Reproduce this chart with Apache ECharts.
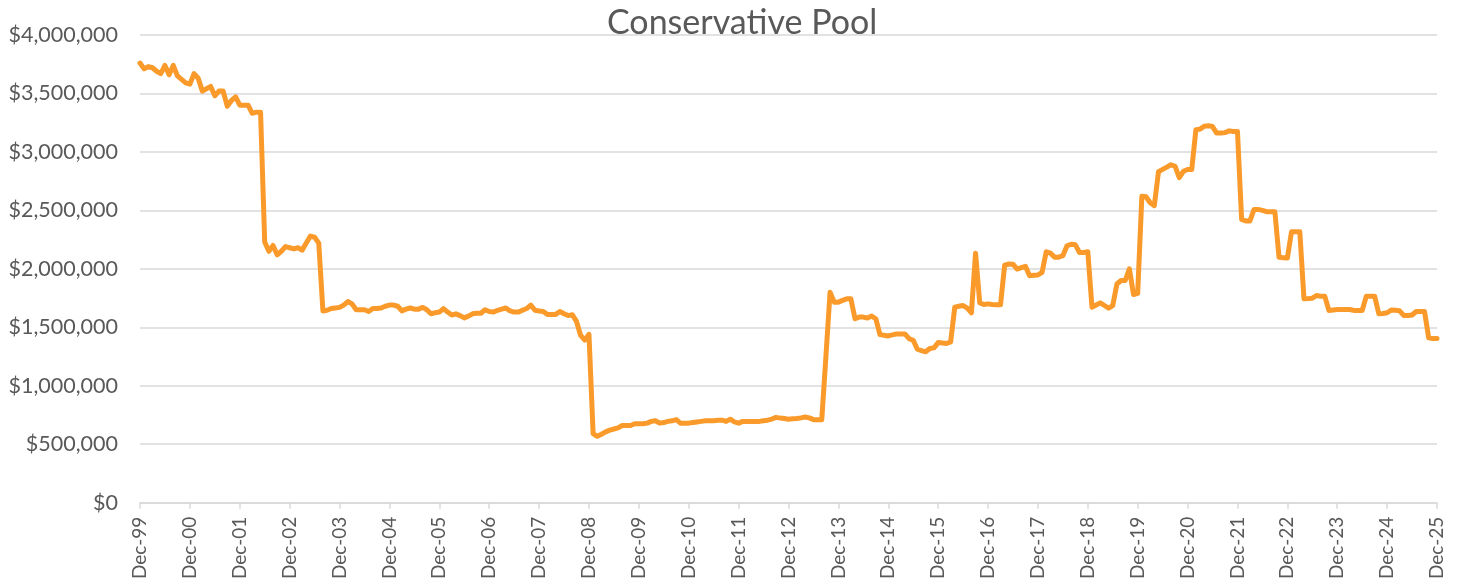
<!DOCTYPE html>
<html>
<head>
<meta charset="utf-8">
<script src="https://cdn.jsdelivr.net/npm/echarts@6/dist/echarts.min.js"></script>
<style>
html,body{margin:0;padding:0;background:#fff;}
#chart{width:1463px;height:582px;}
</style>
</head>
<body>
<div id="chart"></div>
<script>
// Monthly pool value in $ millions, Dec-1999 .. Dec-2025
var poolValues = [
  3.76, 3.71, 3.73, 3.72, 3.69, 3.67, 3.74, 3.66, 3.74, 3.65, 3.62, 3.59,
  3.58, 3.67, 3.63, 3.52, 3.54, 3.56, 3.48, 3.52, 3.52, 3.39, 3.44, 3.47,
  3.40, 3.40, 3.40, 3.33, 3.34, 3.34, 2.23, 2.15, 2.20, 2.12, 2.15, 2.19,
  2.18, 2.17, 2.18, 2.16, 2.22, 2.28, 2.27, 2.22, 1.64, 1.645, 1.66, 1.665,
  1.67, 1.69, 1.72, 1.70, 1.65, 1.65, 1.65, 1.635, 1.66, 1.66, 1.665, 1.68,
  1.69, 1.69, 1.68, 1.64, 1.655, 1.665, 1.655, 1.655, 1.67, 1.65, 1.615, 1.625,
  1.63, 1.66, 1.63, 1.605, 1.615, 1.60, 1.58, 1.595, 1.615, 1.62, 1.62, 1.65,
  1.635, 1.63, 1.645, 1.655, 1.665, 1.64, 1.63, 1.63, 1.645, 1.66, 1.69, 1.645,
  1.64, 1.635, 1.61, 1.61, 1.61, 1.635, 1.616, 1.60, 1.607, 1.55, 1.43, 1.39,
  1.44, 0.59, 0.567, 0.585, 0.605, 0.62, 0.63, 0.64, 0.66, 0.66, 0.66, 0.675,
  0.675, 0.675, 0.68, 0.695, 0.70, 0.68, 0.685, 0.695, 0.70, 0.71, 0.68, 0.678,
  0.68, 0.685, 0.69, 0.695, 0.70, 0.70, 0.70, 0.705, 0.705, 0.695, 0.714, 0.69,
  0.68, 0.695, 0.695, 0.695, 0.695, 0.695, 0.70, 0.705, 0.715, 0.729, 0.723, 0.72,
  0.714, 0.717, 0.72, 0.725, 0.732, 0.725, 0.71, 0.709, 0.709, 1.25, 1.80, 1.715,
  1.715, 1.73, 1.743, 1.743, 1.573, 1.587, 1.587, 1.579, 1.596, 1.573, 1.437, 1.431,
  1.426, 1.435, 1.443, 1.443, 1.443, 1.403, 1.389, 1.312, 1.30, 1.29, 1.318, 1.324,
  1.369, 1.365, 1.361, 1.375, 1.672, 1.68, 1.686, 1.664, 1.624, 2.134, 1.709, 1.695,
  1.70, 1.695, 1.692, 1.692, 2.032, 2.041, 2.04, 1.998, 2.01, 2.021, 1.941, 1.945,
  1.947, 1.97, 2.146, 2.134, 2.10, 2.10, 2.112, 2.197, 2.21, 2.205, 2.14, 2.14,
  2.146, 1.672, 1.69, 1.709, 1.686, 1.664, 1.686, 1.87, 1.90, 1.90, 2.00, 1.78,
  1.79, 2.62, 2.616, 2.565, 2.54, 2.83, 2.85, 2.87, 2.89, 2.877, 2.78, 2.834,
  2.85, 2.849, 3.19, 3.195, 3.22, 3.223, 3.217, 3.161, 3.161, 3.165, 3.18, 3.175,
  3.175, 2.423, 2.41, 2.41, 2.508, 2.508, 2.50, 2.489, 2.489, 2.489, 2.098, 2.095,
  2.092, 2.316, 2.316, 2.316, 1.743, 1.745, 1.749, 1.771, 1.766, 1.766, 1.644, 1.648,
  1.652, 1.652, 1.652, 1.652, 1.644, 1.644, 1.644, 1.766, 1.766, 1.766, 1.616, 1.618,
  1.624, 1.647, 1.645, 1.641, 1.601, 1.601, 1.605, 1.635, 1.635, 1.635, 1.409, 1.403,
  1.403
];

var monthNames = ['Dec','Jan','Feb','Mar','Apr','May','Jun','Jul','Aug','Sep','Oct','Nov'];
var yearLabels = ['99','00','01','02','03','04','05','06','07','08','09','10','11','12','13',
                  '14','15','16','17','18','19','20','21','22','23','24','25'];

// category labels: Dec-99, Jan-00, ..., Dec-25
var categories = [];
for (var i = 0; i < poolValues.length; i++) {
  var yi = Math.floor((i + 11) / 12);
  categories.push(monthNames[i % 12] + '-' + yearLabels[yi]);
}

var textColor = '#595959';
var gridColor = '#d9d9d9';
var fontFam = 'Lato, "Open Sans", sans-serif';

var chart = echarts.init(document.getElementById('chart'), null, {renderer: 'canvas'});
chart.setOption({
  animation: false,
  backgroundColor: '#ffffff',
  title: {
    text: 'Conservative Pool',
    left: 602,
    top: 1,
    textStyle: {color: textColor, fontFamily: fontFam, fontSize: 34, fontWeight: 'normal'}
  },
  grid: {left: 140, right: 26, top: 35, bottom: 77, containLabel: false},
  xAxis: {
    type: 'category',
    data: categories,
    boundaryGap: false,
    axisLine: {show: true, lineStyle: {color: gridColor, width: 1.5}},
    axisTick: {show: true, interval: 11, length: 6, lineStyle: {color: gridColor, width: 1.5}},
    axisLabel: {
      interval: 11,
      rotate: 90,
      margin: 14,
      color: textColor,
      fontFamily: fontFam,
      fontSize: 19
    },
    splitLine: {show: false}
  },
  yAxis: {
    type: 'value',
    min: 0,
    max: 4,
    interval: 0.5,
    axisLine: {show: false},
    axisTick: {show: false},
    axisLabel: {
      margin: 22,
      color: textColor,
      fontFamily: fontFam,
      fontSize: 21.5,
      formatter: function (v) { return '$' + Math.round(v * 1000000).toLocaleString('en-US'); }
    },
    splitLine: {show: true, lineStyle: {color: gridColor, width: 1.5}}
  },
  series: [{
    name: 'Conservative Pool',
    type: 'line',
    data: poolValues,
    showSymbol: false,
    symbol: 'none',
    lineStyle: {color: '#F99A2B', width: 5, join: 'round', cap: 'round'},
    itemStyle: {color: '#F99A2B'}
  }]
});
</script>
</body>
</html>
